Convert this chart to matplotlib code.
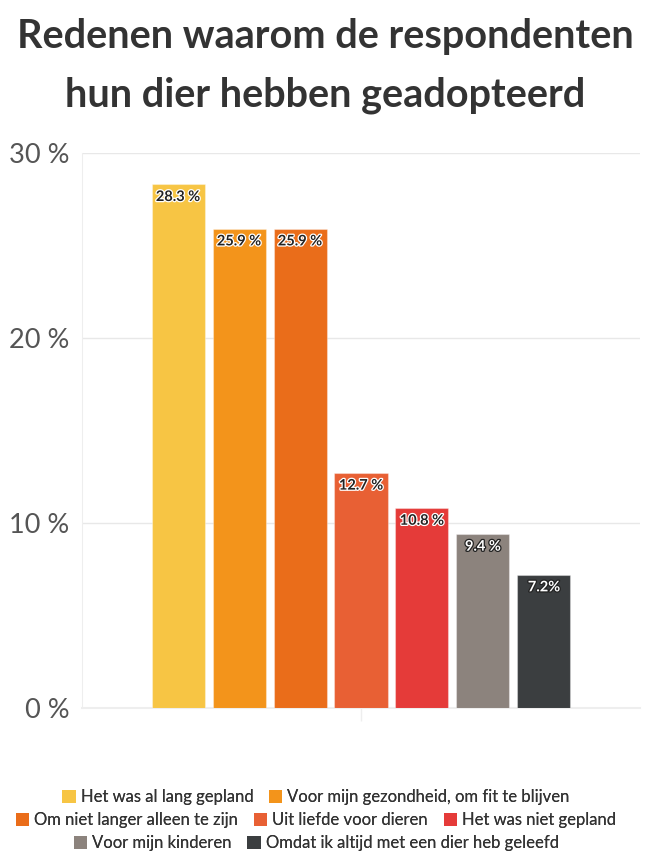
import matplotlib
matplotlib.use("Agg")
import matplotlib.pyplot as plt
import matplotlib.patheffects as pe
from matplotlib.patches import Patch

title = "Redenen waarom de respondenten\nhun dier hebben geadopteerd"
series = [
    "Het was al lang gepland",
    "Voor mijn gezondheid, om fit te blijven",
    "Om niet langer alleen te zijn",
    "Uit liefde voor dieren",
    "Het was niet gepland",
    "Voor mijn kinderen",
    "Omdat ik altijd met een dier heb geleefd",
]
values = [28.3, 25.9, 25.9, 12.7, 10.8, 9.4, 7.2]
value_labels = ["28.3 %", "25.9 %", "25.9 %", "12.7 %", "10.8 %", "9.4 %", "7.2%"]
colors = ["#F7C544", "#F3941B", "#EA6D1A", "#E86034", "#E53B39", "#8C837D", "#3B3E40"]
dark_bg = [False, False, False, False, False, True, True]
yticks = [0, 10, 20, 30]
ytick_labels = ["0 %", "10 %", "20 %", "30 %"]
legend_rows = [[0, 1], [2, 3, 4], [5, 6]]

plt.rcParams["font.family"] = ["Lato", "DejaVu Sans"]

fig = plt.figure(figsize=(6.5, 8.56), dpi=100)
ax = fig.add_axes([82/650, 1-708/856, (640-82)/650, (708-153)/856])

pitch = 0.1093
width = 0.095
n = len(values)
xs = [(i - (n-1)/2) * pitch for i in range(n)]
bars = ax.bar(xs, values, width=width, color=colors, linewidth=0.8, zorder=3)
for b in bars:
    b.set_edgecolor((1, 1, 1, 0.35))

for x, v, lab, dk in zip(xs, values, value_labels, dark_bg):
    fc = "white" if dk else "#222222"
    sc = "#222222" if dk else "white"
    ax.text(x, v - 0.3, lab, ha="center", va="top", fontsize=10.5, fontweight="bold",
            color=fc, zorder=5,
            path_effects=[pe.withStroke(linewidth=1.8, foreground=sc)])

ax.set_xlim(-0.5, 0.5)
ax.set_ylim(0, 30)
ax.set_yticks(yticks)
ax.set_yticklabels(ytick_labels, fontsize=19.5, color="#555555")
ax.tick_params(axis="y", length=0, pad=9)
ax.set_xticks([0])
ax.set_xticklabels([""])
ax.tick_params(axis="x", length=9, color="#eeeeee", width=1)
ax.grid(axis="y", color="#e8e8e8", linewidth=1, zorder=0)
for s in ["top", "right"]:
    ax.spines[s].set_visible(False)
ax.spines["left"].set_color("#eeeeee")
ax.spines["bottom"].set_color("#eeeeee")
ax.spines["bottom"].set_linewidth(1.5)

fig.text(0.5, 1 - 66/856, title, ha="center", va="center", fontsize=28.5,
         fontweight="bold", color="#333333", linespacing=1.7)

handles = [Patch(facecolor=c, edgecolor="none") for c in colors]
row_y = [797, 820, 843]
for row, yy in zip(legend_rows, row_y):
    leg = fig.legend([handles[i] for i in row], [series[i] for i in row],
                     loc="center", bbox_to_anchor=(316/650, 1 - yy/856),
                     ncol=len(row), frameon=False, fontsize=12,
                     handlelength=0.8, handleheight=0.8, handletextpad=0.3,
                     columnspacing=0.95, borderpad=0, labelcolor="#333333")
    fig.add_artist(leg)

fig.savefig("out.png", dpi=100)
